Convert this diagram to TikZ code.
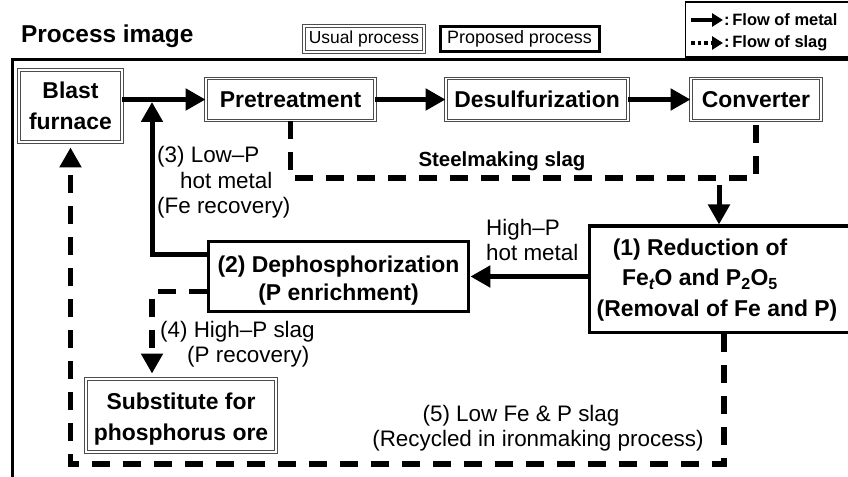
\documentclass[tikz,border=0pt]{standalone}
\usepackage{fontspec}
\setmainfont{Liberation Sans}
\usetikzlibrary{arrows.meta,calc}
\tikzset{
  boxfont/.style={font=\fontsize{23}{31}\selectfont\bfseries},
  lblfont/.style={font=\fontsize{22.5}{25.5}\selectfont},
  usualbox/.style={draw=black!70, double=white, line width=0.9bp, double distance=1.3bp, inner sep=0pt, align=center, boxfont},
  propbox/.style={draw=black, line width=3.8bp, inner sep=0pt, align=center, boxfont},
  metal/.style={line width=5bp, -{Triangle[length=20bp,width=21bp]}},
  slagline/.style={line width=5.5bp, dash pattern=on 18bp off 13bp},
  slag/.style={slagline, -{Triangle[length=20bp,width=21bp]}},
  lbl/.style={lblfont, inner sep=0pt},
  legtext/.style={font=\fontsize{16.5}{19}\selectfont\bfseries, anchor=west, inner sep=0pt},
}
\begin{document}
\begin{tikzpicture}[x=1bp,y=-1bp]
\useasboundingbox (0,0) rectangle (848,477);
\clip (0,0) rectangle (848,477);
% frame
\draw[line width=3bp] (12,60) rectangle (880,500);
% header
\node[font=\fontsize{24.5}{28}\selectfont\bfseries, anchor=west, inner sep=0pt] (title) at (21,36) {Process image};
\node[usualbox, font=\fontsize{17.5}{20}\selectfont, minimum width=120bp, minimum height=26bp] (usual) at (364,39) {Usual process};
\node[draw, line width=3bp, inner sep=0pt, font=\fontsize{18}{20}\selectfont, minimum width=159bp, minimum height=25bp] (prop) at (519.5,39) {Proposed process};
% legend
\node[draw, line width=1.3bp, minimum width=180bp, minimum height=55bp, anchor=north west, inner sep=0pt] (legend) at (685,1.5) {};
\coordinate (lm1) at (691,20);
\coordinate (lm2) at (723,20);
\coordinate (ls1) at (691,43);
\coordinate (ls2) at (723,43);
\draw[line width=3.5bp, -{Triangle[length=11bp,width=13bp]}] (lm1) -- (lm2);
\draw[line width=3.5bp, dash pattern=on 3.5bp off 3bp, -{Triangle[length=11bp,width=13bp]}] (ls1) -- (ls2);
\node[legtext] (lgm) at (724,20) {:\,Flow of metal};
\node[legtext] (lgs) at (724,43) {:\,Flow of slag};
% boxes
\node[usualbox, minimum width=103bp, minimum height=72bp] (blast) at (70.5,106) {Blast\\furnace};
\node[usualbox, minimum width=169bp, minimum height=42bp] (pre) at (290.5,99.5) {Pretreatment};
\node[usualbox, minimum width=182bp, minimum height=42bp] (desulf) at (537,99.5) {Desulfurization};
\node[usualbox, minimum width=130bp, minimum height=42bp] (conv) at (756,99.5) {Converter};
\node[propbox, minimum width=260bp, minimum height=70bp] (deph) at (338.5,276.5) {};
\node[boxfont, align=center, inner sep=0pt, font=\fontsize{23}{28}\selectfont\bfseries] (dephtxt) at (338.5,281) {(2) Dephosphorization\\(P enrichment)};
\node[propbox, minimum width=300bp, minimum height=106bp, anchor=north west] (red) at (587.5,224.5) {};
\node[boxfont, align=center, inner sep=0pt] (redtxt) at (717,280) {(1) Reduction of\hbox to 34bp{}\\Fe\textsubscript{\itshape t}O and P\textsubscript{2}O\textsubscript{5}\hbox to 34bp{}\\(Removal of Fe and P)};
\node[usualbox, minimum width=190bp, minimum height=73bp] (subst) at (181,415.5) {};
\node[boxfont, align=center, inner sep=0pt] (substtxt) at (181,419) {Substitute for\\phosphorus ore};
% metal flow
\draw[metal] (blast.east |- pre.west) -- (pre.west);
\draw[metal] (pre.east) -- (desulf.west);
\draw[metal] (desulf.east) -- (conv.west);
\coordinate (j3) at (152,102);
\draw[metal] ([yshift=-15bp]deph.north west) -| (j3);
\coordinate (s2) at (719,185);
\draw[metal] (s2) -- (s2 |- red.north);
\draw[metal] (red.west |- deph.east) -- (deph.east);
% slag flow
\coordinate (sk) at (756,178);
\draw[slagline] (pre.south) |- (sk) -- (conv.south);
\draw[slag, shorten >=5bp] ([yshift=-52bp]deph.north west) -| (subst.north -| j3);
\coordinate (s3) at (724,464);
\draw[slag, shorten >=5bp] (red.south -| s3) |- (blast.south |- s3) -- (blast.south);
% labels
\node[font=\fontsize{20.5}{24}\selectfont\bfseries, inner sep=0pt] (sklbl) at (502,161) {Steelmaking slag};
\node[lbl, align=left, anchor=west] (l3) at (157,182.5) {(3) Low–P\\\hspace*{23bp}hot metal\\(Fe recovery)};
\node[lbl, align=left, anchor=west] (lhp) at (486,240) {High–P\\hot metal};
\node[lbl, align=left, anchor=west] (l4) at (160,344.5) {(4) High–P slag\\\hspace*{27bp}(P recovery)};
\node[lbl, align=center] (l5) at (538,428) {(5) Low Fe \& P slag\hbox to 34bp{}\\(Recycled in ironmaking process)};
\end{tikzpicture}
\end{document}
